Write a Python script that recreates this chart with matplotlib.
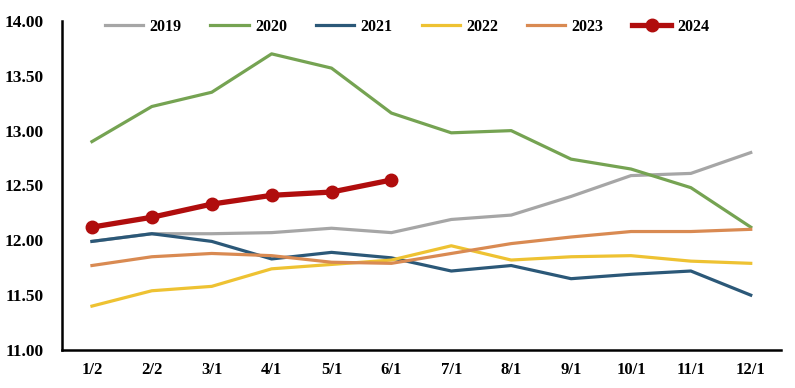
import matplotlib
matplotlib.use("Agg")
import matplotlib.pyplot as plt
import numpy as np

plt.rcParams['font.family'] = ['Liberation Serif', 'DejaVu Serif']
plt.rcParams['font.weight'] = 'bold'

months = ["1/2", "2/2", "3/1", "4/1", "5/1", "6/1",
          "7/1", "8/1", "9/1", "10/1", "11/1", "12/1"]

y2019 = [11.99, 12.06, 12.06, 12.07, 12.11, 12.07, 12.19, 12.23, 12.40, 12.59, 12.61, 12.80]
y2020 = [12.90, 13.22, 13.35, 13.70, 13.57, 13.16, 12.98, 13.00, 12.74, 12.65, 12.48, 12.12]
y2021 = [11.99, 12.06, 11.99, 11.83, 11.89, 11.84, 11.72, 11.77, 11.65, 11.69, 11.72, 11.50]
y2022 = [11.40, 11.54, 11.58, 11.74, 11.78, 11.82, 11.95, 11.82, 11.85, 11.86, 11.81, 11.79]
y2023 = [11.77, 11.85, 11.88, 11.86, 11.80, 11.79, 11.88, 11.97, 12.03, 12.08, 12.08, 12.10]
y2024 = [12.12, 12.21, 12.33, 12.41, 12.44, 12.55]

series = [
    ("2019", y2019, "#A6A6A6"),
    ("2020", y2020, "#75A352"),
    ("2021", y2021, "#2B5878"),
    ("2022", y2022, "#EEC232"),
    ("2023", y2023, "#D98A52"),
]

fig = plt.figure(figsize=(7.95, 3.88), dpi=100)
ax = fig.add_axes([0.078, 0.098, 0.904, 0.848])

x = np.arange(len(months))
for name, vals, color in series:
    ax.plot(x, vals, color=color, lw=2.3, label=name)
ax.plot(x[:len(y2024)], y2024, color="#B00D0D", lw=3.8, marker="o",
        markersize=9, label="2024")

ax.set_xlim(-0.5, 11.5)
ax.set_ylim(11, 14)
ax.set_yticks(np.arange(11, 14.01, 0.5))
ax.set_yticklabels([f"{v:.2f}" for v in np.arange(11, 14.01, 0.5)])
ax.set_xticks(x)
ax.set_xticklabels(months)

for side in ("top", "right"):
    ax.spines[side].set_visible(False)
for side in ("left", "bottom"):
    ax.spines[side].set_linewidth(1.8)
    ax.spines[side].set_color("black")

ax.tick_params(axis="y", length=0, pad=13, labelsize=12.5)
ax.tick_params(axis="x", length=0, pad=9, labelsize=12)

ax.legend(loc="center", bbox_to_anchor=(0.48, 0.982), ncol=6, frameon=False,
          prop={"size": 11.5, "weight": "bold"}, handlelength=2.4,
          handletextpad=0.4, columnspacing=1.8)

fig.savefig("out.png", dpi=100)
